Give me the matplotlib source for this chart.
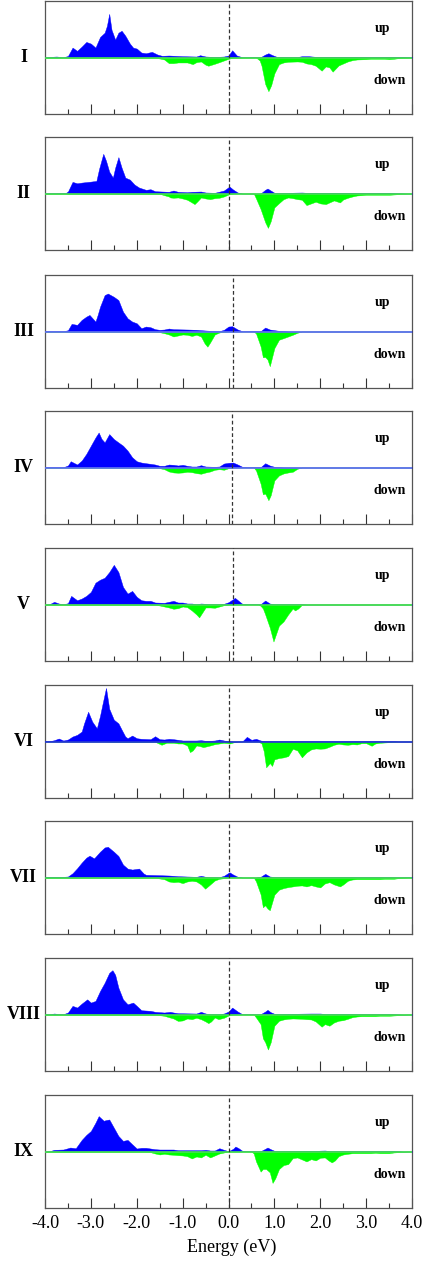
import numpy as np
import matplotlib
matplotlib.use('Agg')
import matplotlib.pyplot as plt
from matplotlib.ticker import MultipleLocator, FormatStrFormatter

plt.rcParams['font.family'] = ['Liberation Serif', 'DejaVu Serif']
plt.rcParams['axes.unicode_minus'] = False

# ---------------- data (energy eV, DOS arbitrary units) ----------------
panel_labels = ['I', 'II', 'III', 'IV', 'V', 'VI', 'VII', 'VIII', 'IX']
fermi_level = [0.0, 0.0, 0.1, 0.08, 0.1, 0.0, 0.0, 0.0, 0.0]
baseline_kind = ['g', 'g', 'b', 'b', 'g', 'b2', 'g', 'g', 'g']

up_I = [(-4.0,0.3),(-3.75,1.0),(-3.6,0.3),(-3.5,1.5),(-3.4,10),(-3.3,6.7),(-3.2,11),(-3.1,15.7),(-3.0,14),(-2.9,10),(-2.8,20.7),(-2.7,25),(-2.65,32),(-2.6,44),(-2.55,28),(-2.47,18),(-2.4,25),(-2.33,27),(-2.25,22),(-2.15,14),(-2.08,10),(-2.0,9),(-1.9,5),(-1.8,4.3),(-1.67,5.7),(-1.55,3),(-1.45,1.7),(-1.3,2),(-1.0,1.3),(-0.7,1.0),(-0.62,2.3),(-0.5,1.0),(-0.3,0.5),(-0.1,1.0),(0.0,2.0),(0.08,7.3),(0.18,2.0),(0.3,0.3),(0.7,0.3),(0.8,3),(0.87,4.3),(0.95,2.5),(1.05,0.7),(1.5,0.5),(1.6,1.3),(1.75,1.3),(1.9,0.7),(3.8,0.7),(4.0,0.3)]
dn_I = [(-4.0,0.3),(-1.6,0.3),(-1.5,1),(-1.4,2),(-1.3,5.7),(-1.2,5.7),(-1.1,5),(-0.9,5),(-0.78,6.7),(-0.7,4.7),(-0.6,4),(-0.5,7.3),(-0.44,8.3),(-0.3,6.3),(-0.2,4.7),(-0.1,3),(0.0,1.3),(0.1,0.3),(0.6,0),(0.68,3),(0.72,8.3),(0.8,26.7),(0.87,34),(0.93,28),(1.0,16),(1.1,6.7),(1.2,5),(1.3,4.3),(1.5,4),(1.6,4.3),(1.7,6),(1.8,6.7),(1.9,8.3),(2.03,13.3),(2.12,9),(2.2,10),(2.27,14.3),(2.4,8),(2.5,6),(2.6,4),(2.7,2.7),(2.8,2),(3.0,1.7),(3.1,1.3),(3.4,1.3),(3.5,1.7),(3.6,1.3),(3.7,0.7),(3.8,0.3),(4.0,0)]

up_II = [(-4.0,0.3),(-3.55,0.5),(-3.5,2),(-3.4,11.7),(-3.3,10.3),(-3.2,11),(-3.0,12),(-2.88,12.7),(-2.82,25),(-2.73,40),(-2.67,33),(-2.6,22),(-2.52,16),(-2.47,26),(-2.4,36.7),(-2.33,26),(-2.25,16),(-2.15,14),(-2.05,9),(-1.95,6),(-1.8,3.7),(-1.7,4.3),(-1.6,2.3),(-1.3,1.7),(-1.2,3),(-1.1,1.7),(-0.9,1.3),(-0.8,1.7),(-0.6,2),(-0.5,1),(-0.3,0.7),(-0.1,3),(0.02,7),(0.1,4),(0.2,1),(0.3,0),(0.7,0),(0.8,3.7),(0.85,5),(0.92,3),(1.0,0.7),(1.1,0.5),(1.6,1),(1.7,0.7),(3.5,0.7),(3.7,0.3),(3.9,0),(4.0,0)]
dn_II = [(-4.0,0.3),(-1.5,0.3),(-1.4,1.7),(-1.3,3),(-1.27,4),(-1.2,4.3),(-1.1,4),(-1.0,5),(-0.9,6.3),(-0.8,9),(-0.74,10.7),(-0.68,8),(-0.6,4),(-0.5,5),(-0.4,5.7),(-0.3,4.7),(-0.2,4.3),(-0.1,3),(0.0,1),(0.1,0),(0.55,0),(0.6,5),(0.7,15.7),(0.8,29),(0.86,34.7),(0.92,28),(1.0,14),(1.1,9.7),(1.2,5.7),(1.3,4),(1.4,4.7),(1.5,5.7),(1.6,6.3),(1.7,11.7),(1.8,10),(1.9,8.3),(2.0,10),(2.12,10.7),(2.2,9),(2.3,7),(2.43,9),(2.5,6),(2.6,4.3),(2.7,3),(2.8,2),(2.9,1.7),(3.0,1.3),(3.5,1.3),(3.6,1),(3.7,0.7),(3.8,0.3),(3.9,0),(4.0,0)]

up_III = [(-4.0,0.3),(-3.6,0.3),(-3.5,1.3),(-3.42,7.7),(-3.3,6.7),(-3.2,11.7),(-3.1,15),(-3.03,16.7),(-2.9,10),(-2.85,17),(-2.8,25),(-2.7,36.7),(-2.63,38.3),(-2.5,35),(-2.4,31.7),(-2.3,20),(-2.2,13.3),(-2.1,10),(-2.0,8.3),(-1.9,3.3),(-1.8,5),(-1.7,4.3),(-1.6,2.3),(-1.5,1.7),(-1.4,2),(-1.3,3),(-1.2,2.3),(-0.9,2),(-0.7,1.7),(-0.6,1.3),(-0.4,0.7),(-0.3,0.3),(-0.2,0.3),(-0.1,1.7),(0.0,5),(0.08,5.3),(0.2,2),(0.3,0.3),(0.7,0.3),(0.8,4),(0.9,2),(1.0,1.3),(1.1,0.7),(1.2,0.3),(1.3,0),(4.0,0)]
dn_III = [(-4.0,0.3),(-1.6,0.3),(-1.5,0.7),(-1.4,1.7),(-1.3,3),(-1.2,5),(-1.1,4),(-1.0,3),(-0.9,3.3),(-0.8,4.5),(-0.7,3.3),(-0.6,5),(-0.52,12),(-0.46,15.3),(-0.4,11),(-0.3,3),(-0.2,1),(-0.1,0.3),(0.0,0),(0.55,0),(0.6,2),(0.7,15),(0.75,26),(0.8,25.7),(0.85,28.3),(0.9,35),(1.0,16.7),(1.1,8.3),(1.2,6.7),(1.3,5),(1.4,3.3),(1.5,1.3),(1.6,0),(4.0,0)]

up_IV = [(-4.0,0.3),(-3.6,0.3),(-3.5,2),(-3.44,6.3),(-3.3,3),(-3.2,7),(-3.1,13.7),(-3.0,22),(-2.9,30.3),(-2.83,35.3),(-2.77,29),(-2.7,25.3),(-2.6,33.7),(-2.5,28.7),(-2.4,25.3),(-2.3,22),(-2.2,17),(-2.1,10.3),(-2.0,6.3),(-1.9,5),(-1.8,4.3),(-1.7,3.7),(-1.6,3),(-1.5,1.7),(-1.4,1.7),(-1.3,3),(-1.2,2.7),(-1.1,2),(-1.0,2.7),(-0.9,1.7),(-0.8,1),(-0.7,1),(-0.6,2.3),(-0.5,1),(-0.3,0.7),(-0.2,1),(-0.1,4),(0.0,4.7),(0.1,5),(0.2,3),(0.3,0.7),(0.4,0.3),(0.7,0.3),(0.8,4.3),(0.9,2),(1.0,0.7),(1.1,0.3),(1.2,0),(4.0,0)]
dn_IV = [(-4.0,0.3),(-1.6,0.3),(-1.5,0.7),(-1.4,1.7),(-1.3,4),(-1.2,5),(-1.1,5.3),(-1.0,5),(-0.9,4.3),(-0.8,4.7),(-0.7,5.7),(-0.6,6.3),(-0.5,5),(-0.4,4),(-0.3,2.3),(-0.2,1.7),(-0.1,2.3),(0.0,0.7),(0.1,0),(0.55,0),(0.6,3),(0.7,16.3),(0.75,27),(0.8,26.3),(0.87,33),(0.92,28),(1.0,13),(1.1,8),(1.2,6),(1.3,5),(1.4,4.3),(1.5,1.3),(1.6,0),(4.0,0)]

up_V = [(-4.0,0),(-3.9,0.3),(-3.8,2.7),(-3.7,1),(-3.6,0.3),(-3.5,1.3),(-3.43,8.7),(-3.3,4.3),(-3.2,6),(-3.1,8.7),(-3.0,12.7),(-2.9,22),(-2.8,25),(-2.7,27),(-2.6,32.7),(-2.5,40),(-2.4,32.7),(-2.3,17.7),(-2.2,11),(-2.1,13.7),(-2.0,7.7),(-1.9,4.3),(-1.8,3.7),(-1.7,3.7),(-1.6,2),(-1.4,1.7),(-1.3,2.7),(-1.2,3.7),(-1.1,2),(-1.0,2),(-0.9,1),(-0.8,1),(-0.7,0.3),(-0.6,1),(-0.5,0.7),(-0.4,0.3),(-0.2,0.3),(-0.1,0.7),(0.0,2.3),(0.14,6.7),(0.22,3.7),(0.3,0.7),(0.4,0.3),(0.7,0.3),(0.8,4),(0.9,1),(1.0,0.3),(1.6,0.3),(1.7,0),(4.0,0)]
dn_V = [(-4.0,0.3),(-1.6,0.3),(-1.5,1),(-1.4,2),(-1.3,3),(-1.2,4.3),(-1.1,3.7),(-1.0,2),(-0.9,2.7),(-0.8,6),(-0.7,10),(-0.64,13),(-0.57,8),(-0.5,3),(-0.4,3),(-0.3,3.3),(-0.2,2),(-0.1,0.7),(0.0,0),(0.65,0),(0.7,1.3),(0.75,4),(0.8,10),(0.9,23.3),(0.98,37.3),(1.1,21.3),(1.2,17),(1.3,10),(1.4,4),(1.45,6),(1.52,4),(1.6,0.3),(1.7,0),(4.0,0)]

up_VI = [(-4.0,0.3),(-3.9,0.3),(-3.8,1.3),(-3.7,3),(-3.6,1),(-3.5,2),(-3.4,5),(-3.3,6.7),(-3.2,10),(-3.15,18),(-3.06,30),(-2.97,20),(-2.87,13.3),(-2.8,26),(-2.75,37),(-2.67,54),(-2.6,33),(-2.5,22),(-2.4,18.3),(-2.33,12),(-2.25,5),(-2.2,3.3),(-2.1,6),(-2.0,3.3),(-1.9,2.7),(-1.7,2.3),(-1.6,5.3),(-1.5,2.3),(-1.4,2),(-1.3,2.7),(-1.2,2.3),(-1.1,1.7),(-1.0,1),(-0.7,1),(-0.6,1.3),(-0.5,0.7),(-0.4,0.7),(-0.3,1),(-0.2,2),(-0.1,1),(0.0,0.3),(0.1,0),(0.3,0),(0.4,4.7),(0.5,1.7),(0.6,2.7),(0.7,1),(0.8,0.3),(3.6,0.3),(3.7,0),(4.0,0)]
dn_VI = [(-4.0,0),(-2.7,0),(-2.5,0.3),(-1.6,0.3),(-1.52,2),(-1.46,3.3),(-1.35,1.3),(-1.2,1.3),(-1.1,2),(-1.0,2),(-0.9,4),(-0.84,10.7),(-0.78,9),(-0.7,4),(-0.62,4.7),(-0.55,5.7),(-0.4,4),(-0.3,2.7),(-0.2,2),(-0.1,1.3),(0.03,2),(0.1,1),(0.2,0),(0.65,0),(0.72,2),(0.77,10),(0.82,26),(0.86,24),(0.9,21.7),(0.95,24.7),(1.0,18),(1.1,16.7),(1.2,16),(1.3,14.7),(1.4,7.3),(1.5,9),(1.6,16),(1.7,11),(1.8,8),(1.9,7),(2.0,7.3),(2.1,7),(2.2,5.3),(2.3,3.3),(2.4,2.3),(2.5,3),(2.6,3.3),(2.7,2.7),(2.8,3),(2.9,1.7),(3.0,1.7),(3.12,4.3),(3.2,2),(3.3,1.3),(3.4,1),(3.5,0.7),(3.6,0.3),(3.7,0),(4.0,0)]

up_VII = [(-4.0,0.7),(-3.6,0.7),(-3.5,1),(-3.4,4.3),(-3.3,9.3),(-3.2,15),(-3.1,20),(-3.03,22),(-2.93,19.3),(-2.8,26),(-2.7,30.3),(-2.63,31),(-2.5,26),(-2.4,21.7),(-2.3,13),(-2.2,9),(-2.1,8),(-1.95,9),(-1.85,4),(-1.8,2.7),(-1.5,2.3),(-1.3,2),(-1.2,1.7),(-1.1,1.3),(-0.7,0.7),(-0.6,1.7),(-0.5,0.7),(-0.4,0.3),(-0.2,0.3),(-0.1,1.7),(0.02,5.3),(0.1,3),(0.2,0.7),(0.3,0),(0.6,0),(0.7,0.7),(0.8,3.7),(0.9,1),(1.0,0.5),(3.5,0.5),(3.6,0.3),(4.0,0.3)]
dn_VII = [(-4.0,0.3),(-1.6,0.3),(-1.5,1),(-1.4,1.7),(-1.3,4),(-1.2,4.7),(-1.1,4.3),(-1.0,5.7),(-0.9,4),(-0.8,3.3),(-0.7,4),(-0.6,7),(-0.51,11.3),(-0.4,7),(-0.3,3),(-0.2,1.3),(-0.1,0.7),(0.0,0),(0.55,0),(0.6,4),(0.7,17),(0.75,30),(0.8,28),(0.85,31.3),(0.9,33),(1.0,17.3),(1.1,12.3),(1.2,10.7),(1.3,9.7),(1.4,9),(1.5,8.3),(1.6,8),(1.7,9),(1.8,7.7),(1.9,9),(2.0,10),(2.1,6),(2.2,4.7),(2.3,7),(2.43,9),(2.5,7),(2.6,3.3),(2.7,2),(2.8,1.7),(3.3,1.7),(3.4,1.3),(3.6,1.3),(3.7,0.7),(3.8,0.3),(3.9,0),(4.0,0)]

up_VIII = [(-4.0,0.3),(-3.9,0.3),(-3.8,1),(-3.7,0.5),(-3.6,0.3),(-3.5,2),(-3.4,8.7),(-3.3,7),(-3.2,11),(-3.08,15.3),(-3.0,12),(-2.9,13.7),(-2.8,23.7),(-2.7,32),(-2.6,42),(-2.53,44.7),(-2.47,40),(-2.4,27),(-2.3,15.3),(-2.2,10.3),(-2.08,12),(-2.0,8.7),(-1.9,4.3),(-1.7,3.7),(-1.6,2.7),(-1.4,2),(-1.27,2.7),(-1.2,2),(-1.1,1.3),(-0.7,1),(-0.6,2.7),(-0.5,1),(-0.4,0.3),(-0.2,0.3),(-0.1,1),(0.0,3),(0.08,7),(0.2,3),(0.3,0.3),(0.7,0.3),(0.8,3),(0.85,4.7),(0.92,2.3),(1.0,0.7),(1.1,0.5),(1.8,1),(2.0,1),(2.1,0.5),(3.5,0.5),(3.6,0.3),(3.8,0),(4.0,0)]
dn_VIII = [(-4.0,0.3),(-1.6,0.3),(-1.5,0.7),(-1.4,1.3),(-1.3,2.7),(-1.2,4),(-1.1,6.5),(-1.0,6),(-0.9,4),(-0.8,4.7),(-0.7,3.3),(-0.6,4.7),(-0.5,7),(-0.44,8.7),(-0.38,7),(-0.3,3),(-0.22,4.7),(-0.1,3.3),(0.0,1),(0.1,0),(0.55,0),(0.6,3),(0.7,9.7),(0.75,24),(0.8,28),(0.86,35.3),(0.92,28),(1.0,11.3),(1.1,6.3),(1.2,5),(1.3,4.3),(1.4,4),(1.6,4.3),(1.7,4.7),(1.8,5),(1.9,7),(2.03,12.3),(2.1,9.7),(2.2,11.3),(2.3,8),(2.4,6.3),(2.5,5.7),(2.6,4.3),(2.7,2.7),(2.8,2),(2.9,1.7),(3.2,1.7),(3.3,1.3),(3.5,1.3),(3.6,1),(3.7,0.7),(3.8,0.3),(3.9,0),(4.0,0)]

up_IX = [(-4.0,0),(-3.9,0.3),(-3.8,1.7),(-3.6,2),(-3.5,3.3),(-3.45,4),(-3.33,3.3),(-3.2,11.7),(-3.1,16.7),(-3.0,20.7),(-2.9,29),(-2.83,35.7),(-2.72,31),(-2.67,31.7),(-2.6,32.3),(-2.5,24),(-2.4,15.7),(-2.3,10.7),(-2.2,11.7),(-2.1,7.3),(-2.0,3),(-1.9,3.7),(-1.8,3.7),(-1.7,3),(-1.6,2.3),(-1.5,2),(-1.2,2),(-1.1,1.3),(-0.6,1.3),(-0.5,1.7),(-0.4,1),(-0.3,1),(-0.2,3.3),(-0.1,1.7),(0.0,0.3),(0.1,2.7),(0.15,5),(0.22,3.3),(0.3,0.7),(0.4,0.3),(0.7,0.3),(0.8,2.7),(0.85,4),(0.92,2.3),(1.0,0.7),(1.1,0.5),(1.9,0.7),(2.1,1),(2.2,0.5),(3.6,0.5),(3.7,0.3),(3.8,0),(4.0,0)]
dn_IX = [(-4.0,0.3),(-1.8,0.3),(-1.7,0.7),(-1.6,2),(-1.5,3),(-1.4,2.3),(-1.3,3),(-1.2,3.3),(-1.1,3.7),(-1.0,4),(-0.9,4.7),(-0.8,7),(-0.7,5),(-0.6,6),(-0.5,3.3),(-0.4,6),(-0.3,4),(-0.2,2),(-0.1,1),(0.0,0),(0.5,0),(0.55,2),(0.6,10),(0.7,20.3),(0.75,17.7),(0.82,17.7),(0.9,21),(0.96,31.7),(1.02,27),(1.1,17.7),(1.2,13.7),(1.3,12.7),(1.4,6.7),(1.5,6),(1.6,8),(1.7,10),(1.8,7.7),(1.9,9),(2.0,6.3),(2.1,6),(2.18,9),(2.25,11),(2.32,9),(2.4,4.7),(2.5,3),(2.6,2.3),(2.7,1.7),(3.1,1.7),(3.2,1.3),(3.3,1.7),(3.5,1.7),(3.6,1),(3.7,0.7),(3.8,0.3),(3.9,0),(4.0,0)]

spin_up = [up_I, up_II, up_III, up_IV, up_V, up_VI, up_VII, up_VIII, up_IX]
spin_down = [dn_I, dn_II, dn_III, dn_IV, dn_V, dn_VI, dn_VII, dn_VIII, dn_IX]

# ---------------- layout ----------------
W, H = 426, 1264
fig = plt.figure(figsize=(W / 100, H / 100), dpi=100)
left_px, right_px = 45, 412
panel_tops = [1, 137, 275, 411, 548, 685, 821, 958, 1095]
panel_h = 113

line_colors = {'g': '#4be84b', 'b': '#6677ee', 'b2': '#2a3ccf'}

for i, lab in enumerate(panel_labels):
    top = panel_tops[i]
    ax = fig.add_axes([left_px / W, 1 - (top + panel_h) / H,
                       (right_px - left_px) / W, panel_h / H])
    e_d, v_d = np.array(spin_down[i]).T
    ax.fill_between(e_d, 0, -v_d, color='#00ff00', lw=0.3, zorder=2)
    e_u, v_u = np.array(spin_up[i]).T
    ax.fill_between(e_u, 0, v_u, color='#0000ff', lw=0.3, zorder=3)
    ax.axhline(0, color=line_colors[baseline_kind[i]], lw=1.2, zorder=4)
    ax.axvline(fermi_level[i], color='#333333', lw=0.9, ls=(0, (3, 2)), zorder=5)

    ax.set_xlim(-4, 4)
    ax.set_ylim(-57, 57)
    ax.set_yticks([])
    ax.xaxis.set_major_locator(MultipleLocator(1.0))
    ax.xaxis.set_minor_locator(MultipleLocator(0.5))
    ax.xaxis.set_major_formatter(FormatStrFormatter('%.1f'))
    ax.tick_params(axis='x', which='major', direction='in', length=7.5,
                   width=0.8, color='#333333', pad=5, labelsize=13)
    ax.tick_params(axis='x', which='minor', direction='in', length=3.8,
                   width=0.8, color='#333333')
    if i < len(panel_labels) - 1:
        ax.tick_params(axis='x', which='both', labelbottom=False)
    for s in ax.spines.values():
        s.set_color('#555555')
        s.set_linewidth(0.9)

    ax.text(-0.058, 0.5, lab, transform=ax.transAxes, ha='center', va='center',
            fontsize=13, fontweight='bold')
    ax.text(0.92, 0.76, 'up', transform=ax.transAxes, ha='center', va='center',
            fontsize=10, fontweight='bold')
    ax.text(0.94, 0.30, 'down', transform=ax.transAxes, ha='center', va='center',
            fontsize=10, fontweight='bold')

fig.text(232 / W, 1 - 1247 / H, 'Energy (eV)', ha='center', va='center', fontsize=13)

fig.savefig('out.png', dpi=100)
